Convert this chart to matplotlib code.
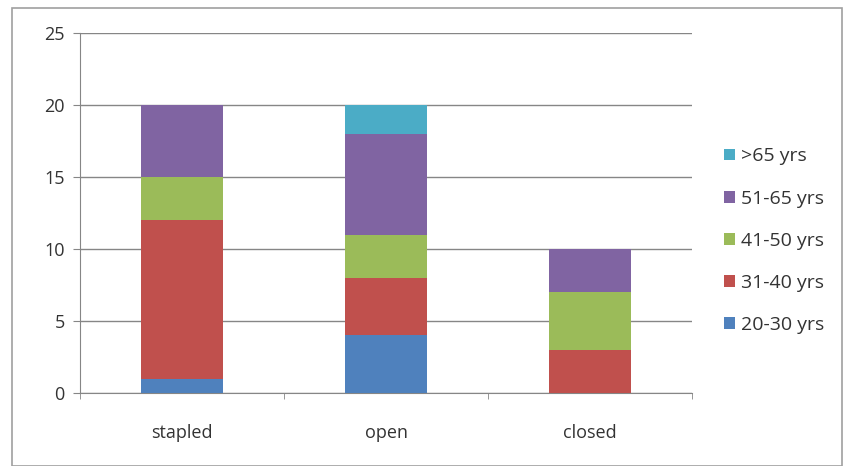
import numpy as np
import matplotlib.pyplot as plt
from matplotlib.patches import Rectangle

# data
categories = ["stapled", "open", "closed"]
age_groups = ["20-30 yrs", "31-40 yrs", "41-50 yrs", "51-65 yrs", ">65 yrs"]
age_20_30 = [1, 4, 0]
age_31_40 = [11, 4, 3]
age_41_50 = [3, 3, 4]
age_51_65 = [5, 7, 3]
age_over_65 = [0, 2, 0]
y_ticks = [0, 5, 10, 15, 20, 25]

colors = ["#4F81BD", "#C0504D", "#9BBB59", "#8064A2", "#4BACC6"]

plt.rcParams["font.family"] = ["Open Sans", "DejaVu Sans"]

fig = plt.figure(figsize=(8.45, 4.66), dpi=100)
ax = fig.add_axes([0.0947, 0.1567, 0.7243, 0.7725])

# Excel style outer frame
fig.patches.append(Rectangle((0.014, 0.0), 0.982, 0.983, transform=fig.transFigure,
                             fill=False, edgecolor="#A0A0A0", linewidth=1.2))

x = np.arange(len(categories))
series = [age_20_30, age_31_40, age_41_50, age_51_65, age_over_65]
bottom = np.zeros(len(categories))
for vals, label, color in zip(series, age_groups, colors):
    ax.bar(x, vals, 0.4, bottom=bottom, color=color, label=label, zorder=3)
    bottom += np.array(vals)

ax.set_xlim(-0.5, 2.5)
ax.set_ylim(0, 25)
ax.set_yticks(y_ticks)
ax.set_yticklabels([str(v) for v in y_ticks], fontsize=13, color="#333333")
ax.set_xticks(x)
ax.set_xticklabels(categories, fontsize=13, color="#333333")
ax.tick_params(axis="x", length=0, pad=22)
ax.set_xticks([-0.5, 0.5, 1.5, 2.5], minor=True)
ax.tick_params(axis="x", which="minor", length=4, color="#868686")
ax.tick_params(axis="y", length=5, color="#868686", pad=6)

ax.grid(axis="y", color="#868686", linewidth=1, zorder=0)
for side in ["top", "right"]:
    ax.spines[side].set_visible(False)
ax.spines["left"].set_color("#868686")
ax.spines["bottom"].set_color("#868686")

handles, labels = ax.get_legend_handles_labels()
ax.legend(handles[::-1], labels[::-1], loc="center left", bbox_to_anchor=(1.024, 0.423),
          frameon=False, fontsize=14, handlelength=0.55, handleheight=0.55,
          handletextpad=0.3, labelspacing=1.24, labelcolor="#333333")

fig.savefig("out.png", dpi=100)
